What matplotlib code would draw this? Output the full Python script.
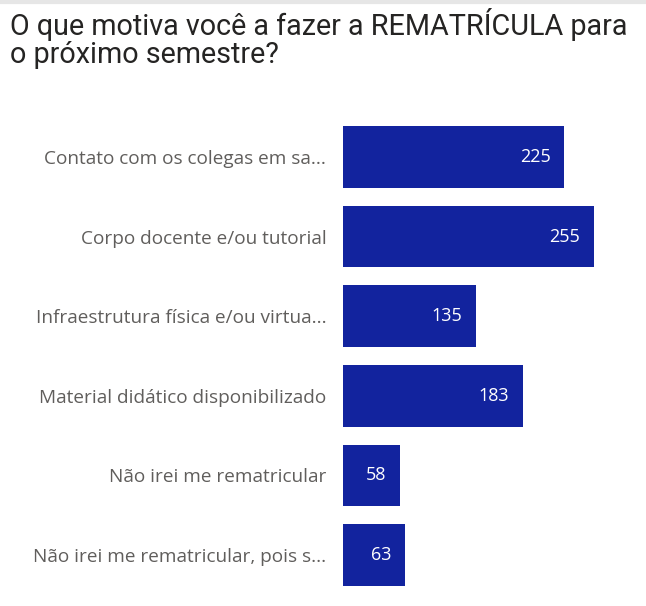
import matplotlib
matplotlib.use("Agg")
import matplotlib.pyplot as plt

# dados do gráfico
categorias = [
    "Contato com os colegas em sa...",
    "Corpo docente e/ou tutorial",
    "Infraestrutura física e/ou virtua...",
    "Material didático disponibilizado",
    "Não irei me rematricular",
    "Não irei me rematricular, pois s...",
]
valores = [225, 255, 135, 183, 58, 63]
titulo = ["O que motiva você a fazer a REMATRÍCULA para", "o próximo semestre?"]

W, H = 646, 606
fig = plt.figure(figsize=(W / 100, H / 100), dpi=100)
fig.patch.set_facecolor("white")

# eixo posicionado em pixels
x0, x1 = 343, 620
y_top, y_bot = 117, 595
ax = fig.add_axes([x0 / W, 1 - y_bot / H, (x1 - x0) / W, (y_bot - y_top) / H])

pos = list(range(len(categorias)))
ax.barh(pos, valores, height=0.77, color="#12239E")
ax.set_xlim(0, 255 * (x1 - x0) / 251)
ax.set_ylim(len(categorias) - 0.5, -0.5)

for p, v in zip(pos, valores):
    ax.text(v - 255 * 14 / 251, p, str(v), ha="right", va="center",
            color="white", fontsize=13, family="Open Sans")

ax.set_yticks(pos)
ax.set_yticklabels(categorias, fontsize=13.7, color="#605E5C", family="Open Sans")
ax.tick_params(axis="y", length=0, pad=12)
ax.set_xticks([])
for s in ax.spines.values():
    s.set_visible(False)

# titulo em duas linhas (baseline em pixels)
for linha, yb in zip(titulo, [35, 63]):
    fig.text(10 / W, 1 - yb / H, linha, ha="left", va="baseline",
             fontsize=20.7, color="#252423", family="Roboto")

# linha cinza no topo
fig.add_artist(plt.Line2D([0, 1], [1 - 2 / H, 1 - 2 / H], color="#E6E6E6", lw=3))

fig.savefig("out.png", dpi=100)
